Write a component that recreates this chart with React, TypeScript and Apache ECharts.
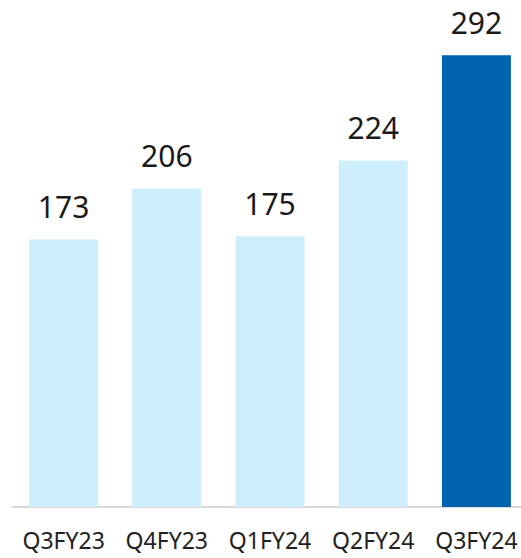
import React, { useEffect, useRef } from "react";
import * as echarts from "echarts";

const categories = ["Q3FY23", "Q4FY23", "Q1FY24", "Q2FY24", "Q3FY24"];
const values = [173, 206, 175, 224, 292];
const barColors = ["#cdeefa", "#cdeefa", "#cdeefa", "#cdeefa", "#0063b0"];

export default function App() {
  const ref = useRef<HTMLDivElement>(null);
  useEffect(() => {
    const chart = echarts.init(ref.current!, null, { renderer: "svg" });
    chart.setOption({
      animation: false,
      grid: {
        left: 12,
        width: 516,
        top: 43,
        bottom: 51,
        containLabel: false,
        outerBoundsMode: "none",
      },
      xAxis: {
        type: "category",
        data: categories,
        axisLine: { show: true, lineStyle: { color: "#d9d9d9", width: 2 } },
        axisTick: { show: false },
        axisLabel: {
          color: "#222",
          fontSize: 23,
          fontFamily: "Noto Sans",
          margin: 21,
          interval: 0,
          hideOverlap: false,
        },
      },
      yAxis: {
        type: "value",
        min: 0,
        max: 300,
        show: false,
        splitLine: { show: false },
      },
      series: [
        {
          type: "bar",
          barWidth: 69,
          data: values.map((v, i) => ({ value: v, itemStyle: { color: barColors[i] } })),
          label: {
            show: true,
            position: "top",
            distance: 18,
            color: "#1a1a1a",
            fontSize: 30,
            fontFamily: "Noto Sans",
          },
        },
      ],
    });
    return () => chart.dispose();
  }, []);
  return (
    <div
      ref={ref}
      style={{ position: "fixed", left: 0, top: 0, width: 521, height: 558, background: "#fff" }}
    />
  );
}
